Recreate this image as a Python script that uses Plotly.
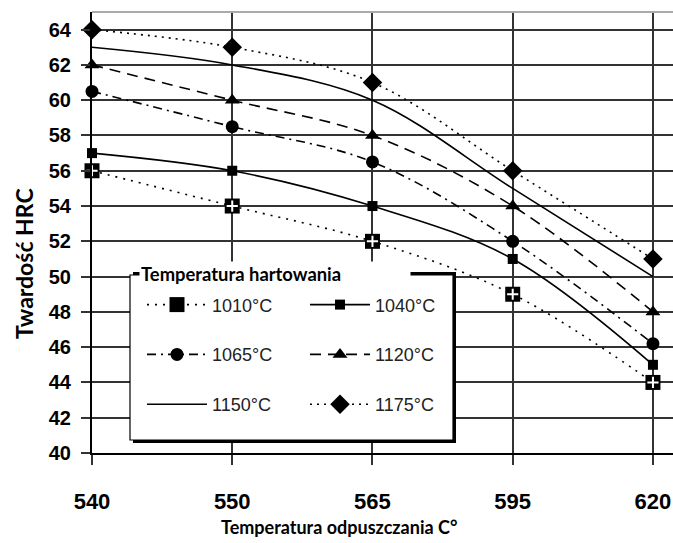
import plotly.graph_objects as go

categories = ["540", "550", "565", "595", "620"]
names = ["1010°C", "1040°C", "1065°C", "1120°C", "1150°C", "1175°C"]
v1010 = [56, 54, 52, 49, 44]
v1040 = [57, 56, 54, 51, 45]
v1065 = [60.5, 58.5, 56.5, 52, 46.2]
v1120 = [62, 60, 58, 54, 48]
v1150 = [63, 62, 60, 55, 50]
v1175 = [64, 63, 61, 56, 51]
y_ticks = list(range(40, 65, 2))

series = [v1010, v1040, v1065, v1120, v1150, v1175]
dashes = ["2px,6px", "solid", "9px,5px,2px,5px", "11px,7px", "solid", "2px,5px"]
symbols = ["square", "square", "circle", "triangle-up", None, "diamond"]
sizes = [15, 10, 13, 13, 0, 15]
legend_ids = ["legend", "legend2", "legend", "legend2", "legend", "legend2"]

# plot area pixel geometry helpers (for legend box placement)
PL, PW, PT, PH = 92, 581, 12, 441
def px(xp):
    return (xp - PL) / PW
def py(yp):
    return (PT + PH - yp) / PH

fig = go.Figure()
for nm, vals, dsh, sym, sz, lg in zip(names, series, dashes, symbols, sizes, legend_ids):
    kw = dict(
        x=categories, y=vals, name="<br>" + nm, legend=lg, legendgroup=nm,
        line=dict(color="black", width=1.6, dash=dsh, shape="spline", smoothing=1.0),
        cliponaxis=False,
    )
    if sym is None:
        kw["mode"] = "lines"
    else:
        kw["mode"] = "lines+markers"
        kw["marker"] = dict(symbol=sym, size=sz, color="black", line=dict(width=0))
    fig.add_trace(go.Scatter(**kw))

# white plus inside the 1010 °C squares
fig.add_trace(go.Scatter(
    x=categories, y=v1010, mode="markers", showlegend=False, legendgroup=names[0],
    marker=dict(symbol="cross-thin", size=8, color="white", line=dict(color="white", width=2)),
    cliponaxis=False, hoverinfo="skip",
))

tick_font = dict(family="Liberation Sans, Arial, sans-serif", color="black", weight="bold")
title_font = dict(family="Lato, Open Sans, sans-serif", color="black", weight="bold")
leg_common = dict(
    orientation="v", yanchor="top", xanchor="left",
    bgcolor="rgba(0,0,0,0)", borderwidth=0,
    itemwidth=60, itemsizing="trace", valign="bottom", tracegroupgap=0,
    font=dict(family="Liberation Sans, Arial, sans-serif", size=18, color="#222"),
)

fig.update_layout(
    width=673, height=543,
    margin=dict(l=PL, r=0, t=PT, b=543 - PT - PH),
    paper_bgcolor="white", plot_bgcolor="white",
    showlegend=True,
    legend=dict(x=px(142), y=py(263), **leg_common),
    legend2=dict(x=px(305), y=py(263), **leg_common),
    xaxis=dict(
        type="category", range=[0, 4.143],
        showgrid=True, gridcolor="#333", gridwidth=2,
        showline=True, linecolor="black", linewidth=2,
        ticks="outside", ticklen=10, tickwidth=2, tickcolor="#333",
        tickfont=dict(size=22, **tick_font), ticklabelstandoff=18,
        zeroline=False,
    ),
    yaxis=dict(
        range=[40, 65], tickvals=y_ticks, ticktext=[str(t) for t in y_ticks],
        showgrid=True, gridcolor="#333", gridwidth=2,
        showline=True, linecolor="black", linewidth=2,
        ticks="outside", ticklen=9, tickwidth=2, tickcolor="#333",
        tickfont=dict(size=20, **tick_font), ticklabelstandoff=6,
        zeroline=False,
    ),
    annotations=[
        dict(text="Temperatura odpuszczania C°", xref="paper", yref="paper",
             x=px(339), y=py(527), xanchor="center", yanchor="middle",
             showarrow=False, font=dict(size=18, **title_font)),
        dict(text="Twardość HRC", xref="paper", yref="paper", textangle=-90,
             x=px(24), y=py(264), xanchor="center", yanchor="middle",
             showarrow=False, font=dict(size=23, **title_font)),
        dict(text="Temperatura hartowania", xref="paper", yref="paper",
             x=px(139), y=py(274), xanchor="left", yanchor="middle",
             width=268, align="left", bgcolor="white", borderpad=1,
             showarrow=False, font=dict(size=18.4, **title_font)),
    ],
    shapes=[
        dict(type="line", xref="paper", yref="paper", x0=0, x1=1, y0=1, y1=1,
             line=dict(color="#aaa", width=2)),
        dict(type="rect", xref="paper", yref="paper", layer="above",
             x0=px(133), x1=px(456), y0=py(443), y1=py(272),
             fillcolor="black", line=dict(width=0)),
        dict(type="rect", xref="paper", yref="paper", layer="above",
             x0=px(130), x1=px(453), y0=py(440), y1=py(275),
             fillcolor="white", line=dict(color="black", width=1.2)),
    ],
)

fig.write_html("out.html")
